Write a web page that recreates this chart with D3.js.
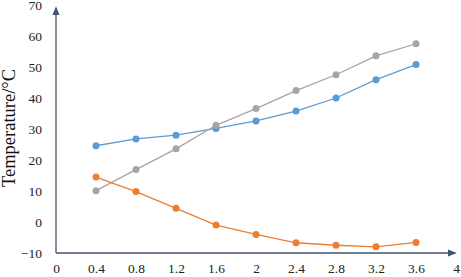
<!DOCTYPE html>
<html>
<head>
<meta charset="utf-8">
<script src="https://cdn.jsdelivr.net/npm/d3@7"></script>
<style>
  html, body { margin: 0; padding: 0; background: #fff; }
  svg { display: block; }
  svg text { font-family: "Liberation Serif", "DejaVu Serif", serif; }
</style>
</head>
<body>
<svg id="chart" width="461" height="277"></svg>
<script>
// x positions (same for every series)
const xValues = [0.4, 0.8, 1.2, 1.6, 2.0, 2.4, 2.8, 3.2, 3.6];
const blueSeries = [24.6, 26.8, 28.0, 30.2, 32.6, 35.8, 40.0, 45.9, 50.8];
const graySeries = [10.1, 16.9, 23.6, 31.2, 36.6, 42.4, 47.5, 53.6, 57.5];
const orangeSeries = [14.5, 9.8, 4.4, -1.0, -4.0, -6.7, -7.5, -8.0, -6.6];
const xTicks = [0, 0.4, 0.8, 1.2, 1.6, 2, 2.4, 2.8, 3.2, 3.6, 4];
const yTicks = [-10, 0, 10, 20, 30, 40, 50, 60, 70];

const SERIES = [
  { values: blueSeries, color: '#5B9BD5' },
  { values: graySeries, color: '#A5A5A5' },
  { values: orangeSeries, color: '#ED7D31' },
];

const svg = d3.select('#chart');
const x = d3.scaleLinear().domain([0, 4]).range([56, 456]);
const y = d3.scaleLinear().domain([-10, 70]).range([253, 5]);
const axisColor = '#44546A';

// arrow heads for the axes
svg.append('defs').append('marker')
  .attr('id', 'arrow')
  .attr('viewBox', '0 -5 10 10')
  .attr('refX', 8).attr('refY', 0)
  .attr('orient', 'auto')
  .attr('markerWidth', 7).attr('markerHeight', 7)
  .append('path').attr('d', 'M0,-4L10,0L0,4Z')
  .attr('fill', axisColor);

// x axis
const xAxis = svg.append('g')
  .attr('transform', `translate(0,${y(-10)})`)
  .call(d3.axisBottom(x).tickValues(xTicks).tickSize(0).tickPadding(10).tickFormat(d3.format('')));
xAxis.attr('font-family', null).attr('font-size', null);
xAxis.select('.domain').remove();
xAxis.selectAll('text').attr('font-size', 13.5).attr('fill', '#222');
svg.append('line')
  .attr('x1', x(0)).attr('x2', x(4) - 1)
  .attr('y1', y(-10)).attr('y2', y(-10))
  .attr('stroke', axisColor).attr('stroke-width', 1.3)
  .attr('marker-end', 'url(#arrow)');

// y axis
const yAxis = svg.append('g')
  .attr('transform', `translate(${x(0)},0)`)
  .call(d3.axisLeft(y).tickValues(yTicks).tickSize(0).tickPadding(14));
yAxis.attr('font-family', null).attr('font-size', null);
yAxis.select('.domain').remove();
yAxis.selectAll('text').attr('font-size', 13.5).attr('fill', '#222');
svg.append('line')
  .attr('x1', x(0)).attr('x2', x(0))
  .attr('y1', y(-10)).attr('y2', y(70) + 3)
  .attr('stroke', axisColor).attr('stroke-width', 1.3)
  .attr('marker-end', 'url(#arrow)');

svg.append('text')
  .attr('transform', `translate(15,${128}) rotate(-90)`)
  .attr('text-anchor', 'middle')
  .attr('font-size', 18.5)
  .attr('fill', '#111')
  .text('Temperature/°C');

// series lines + markers
const line = d3.line().x((d, i) => x(xValues[i])).y(d => y(d));
SERIES.forEach(s => {
  svg.append('path')
    .datum(s.values)
    .attr('d', line)
    .attr('fill', 'none')
    .attr('stroke', s.color)
    .attr('stroke-width', 1.3);
  svg.append('g').selectAll('circle')
    .data(s.values)
    .enter().append('circle')
    .attr('cx', (d, i) => x(xValues[i]))
    .attr('cy', d => y(d))
    .attr('r', 3.5)
    .attr('fill', s.color);
});
</script>
</body>
</html>
